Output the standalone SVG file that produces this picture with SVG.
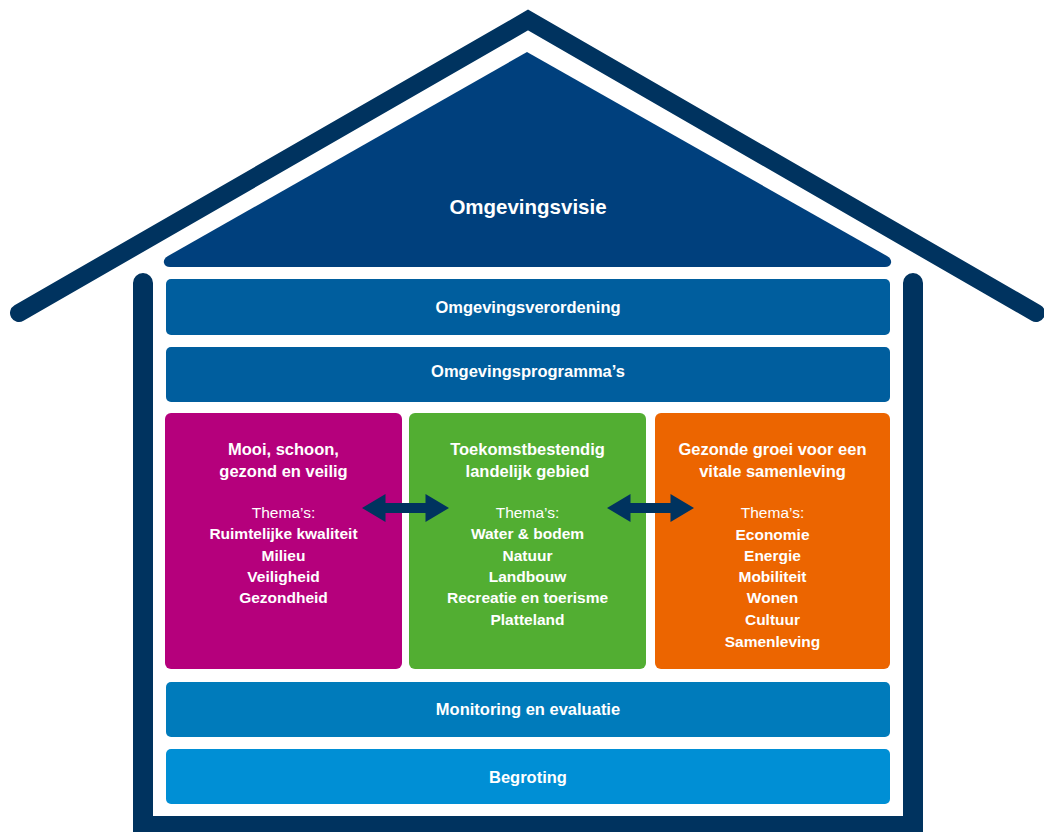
<svg xmlns="http://www.w3.org/2000/svg" width="1044" height="832" viewBox="0 0 1044 832">
<style>
.t{font-family:"Liberation Sans",Arial,sans-serif;fill:#ffffff;text-anchor:middle}
.b{font-weight:bold;font-size:16.5px}
.th{font-weight:normal;font-size:15.5px}
.it{font-weight:bold;font-size:15.5px}
.bar{stroke:none}
</style>
<defs>
<path id="dblarrow" d="M0,0 L23.5,-14 L23.5,-5 L63.5,-5 L63.5,-14 L87,0 L63.5,14 L63.5,5 L23.5,5 L23.5,14 Z" fill="#00335f"/>
</defs>
<rect width="1044" height="832" fill="#ffffff"/>
<g id="house-frame">
<path d="M19,313 L528,20 L1036,313" fill="none" stroke="#00335f" stroke-width="18" stroke-linecap="round" stroke-linejoin="miter"/>
<path d="M143,283 V826 H913 V283" fill="none" stroke="#00335f" stroke-width="20" stroke-linecap="round" stroke-linejoin="miter"/>
</g>
<g id="omgevingsvisie">
<path d="M527,52 L887,256 Q892,259 891,263 Q890,267 885,267 L170,267 Q165,267 164,263 Q163,259 168,256 Z" fill="#00407d"/>
<text class="t" x="528" y="214" font-weight="bold" font-size="20.5px">Omgevingsvisie</text>
</g>
<g id="omgevingsverordening">
<rect class="bar" x="166" y="279" width="724" height="56" rx="5" fill="#005e9e"/>
<text class="t b" x="528" y="313">Omgevingsverordening</text>
</g>
<g id="omgevingsprogrammas">
<rect class="bar" x="166" y="347" width="724" height="55" rx="5" fill="#005e9e"/>
<text class="t b" x="528" y="377">Omgevingsprogramma’s</text>
</g>
<g id="mooi-schoon">
<rect x="165" y="413" width="237" height="256" rx="6" fill="#b5007c"/>
<text class="t b" x="283.5" y="455">Mooi, schoon,</text>
<text class="t b" x="283.5" y="477">gezond en veilig</text>
<text class="t th" x="283.5" y="518">Thema’s:</text>
<text class="t it" x="283.5" y="539">Ruimtelijke kwaliteit</text>
<text class="t it" x="283.5" y="561">Milieu</text>
<text class="t it" x="283.5" y="582">Veiligheid</text>
<text class="t it" x="283.5" y="603">Gezondheid</text>
</g>
<g id="toekomstbestendig">
<rect x="409" y="413" width="237" height="256" rx="6" fill="#52ae32"/>
<text class="t b" x="527.5" y="455">Toekomstbestendig</text>
<text class="t b" x="527.5" y="477">landelijk gebied</text>
<text class="t th" x="527.5" y="518">Thema’s:</text>
<text class="t it" x="527.5" y="539">Water &amp; bodem</text>
<text class="t it" x="527.5" y="561">Natuur</text>
<text class="t it" x="527.5" y="582">Landbouw</text>
<text class="t it" x="527.5" y="603">Recreatie en toerisme</text>
<text class="t it" x="527.5" y="625">Platteland</text>
</g>
<g id="gezonde-groei">
<rect x="655" y="413" width="235" height="256" rx="6" fill="#ec6500"/>
<text class="t b" x="772.5" y="455">Gezonde groei voor een</text>
<text class="t b" x="772.5" y="477">vitale samenleving</text>
<text class="t th" x="772.5" y="518">Thema’s:</text>
<text class="t it" x="772.5" y="540">Economie</text>
<text class="t it" x="772.5" y="561">Energie</text>
<text class="t it" x="772.5" y="582">Mobiliteit</text>
<text class="t it" x="772.5" y="603">Wonen</text>
<text class="t it" x="772.5" y="625">Cultuur</text>
<text class="t it" x="772.5" y="647">Samenleving</text>
</g>
<g id="monitoring">
<rect class="bar" x="166" y="682" width="724" height="55" rx="5" fill="#007bbb"/>
<text class="t b" x="528" y="715">Monitoring en evaluatie</text>
</g>
<g id="begroting">
<rect class="bar" x="166" y="749" width="724" height="55" rx="5" fill="#008fd5"/>
<text class="t b" x="528" y="783">Begroting</text>
</g>
<g id="connectors">
<use href="#dblarrow" transform="translate(362,508)"/>
<use href="#dblarrow" transform="translate(607,508)"/>
</g>
</svg>
